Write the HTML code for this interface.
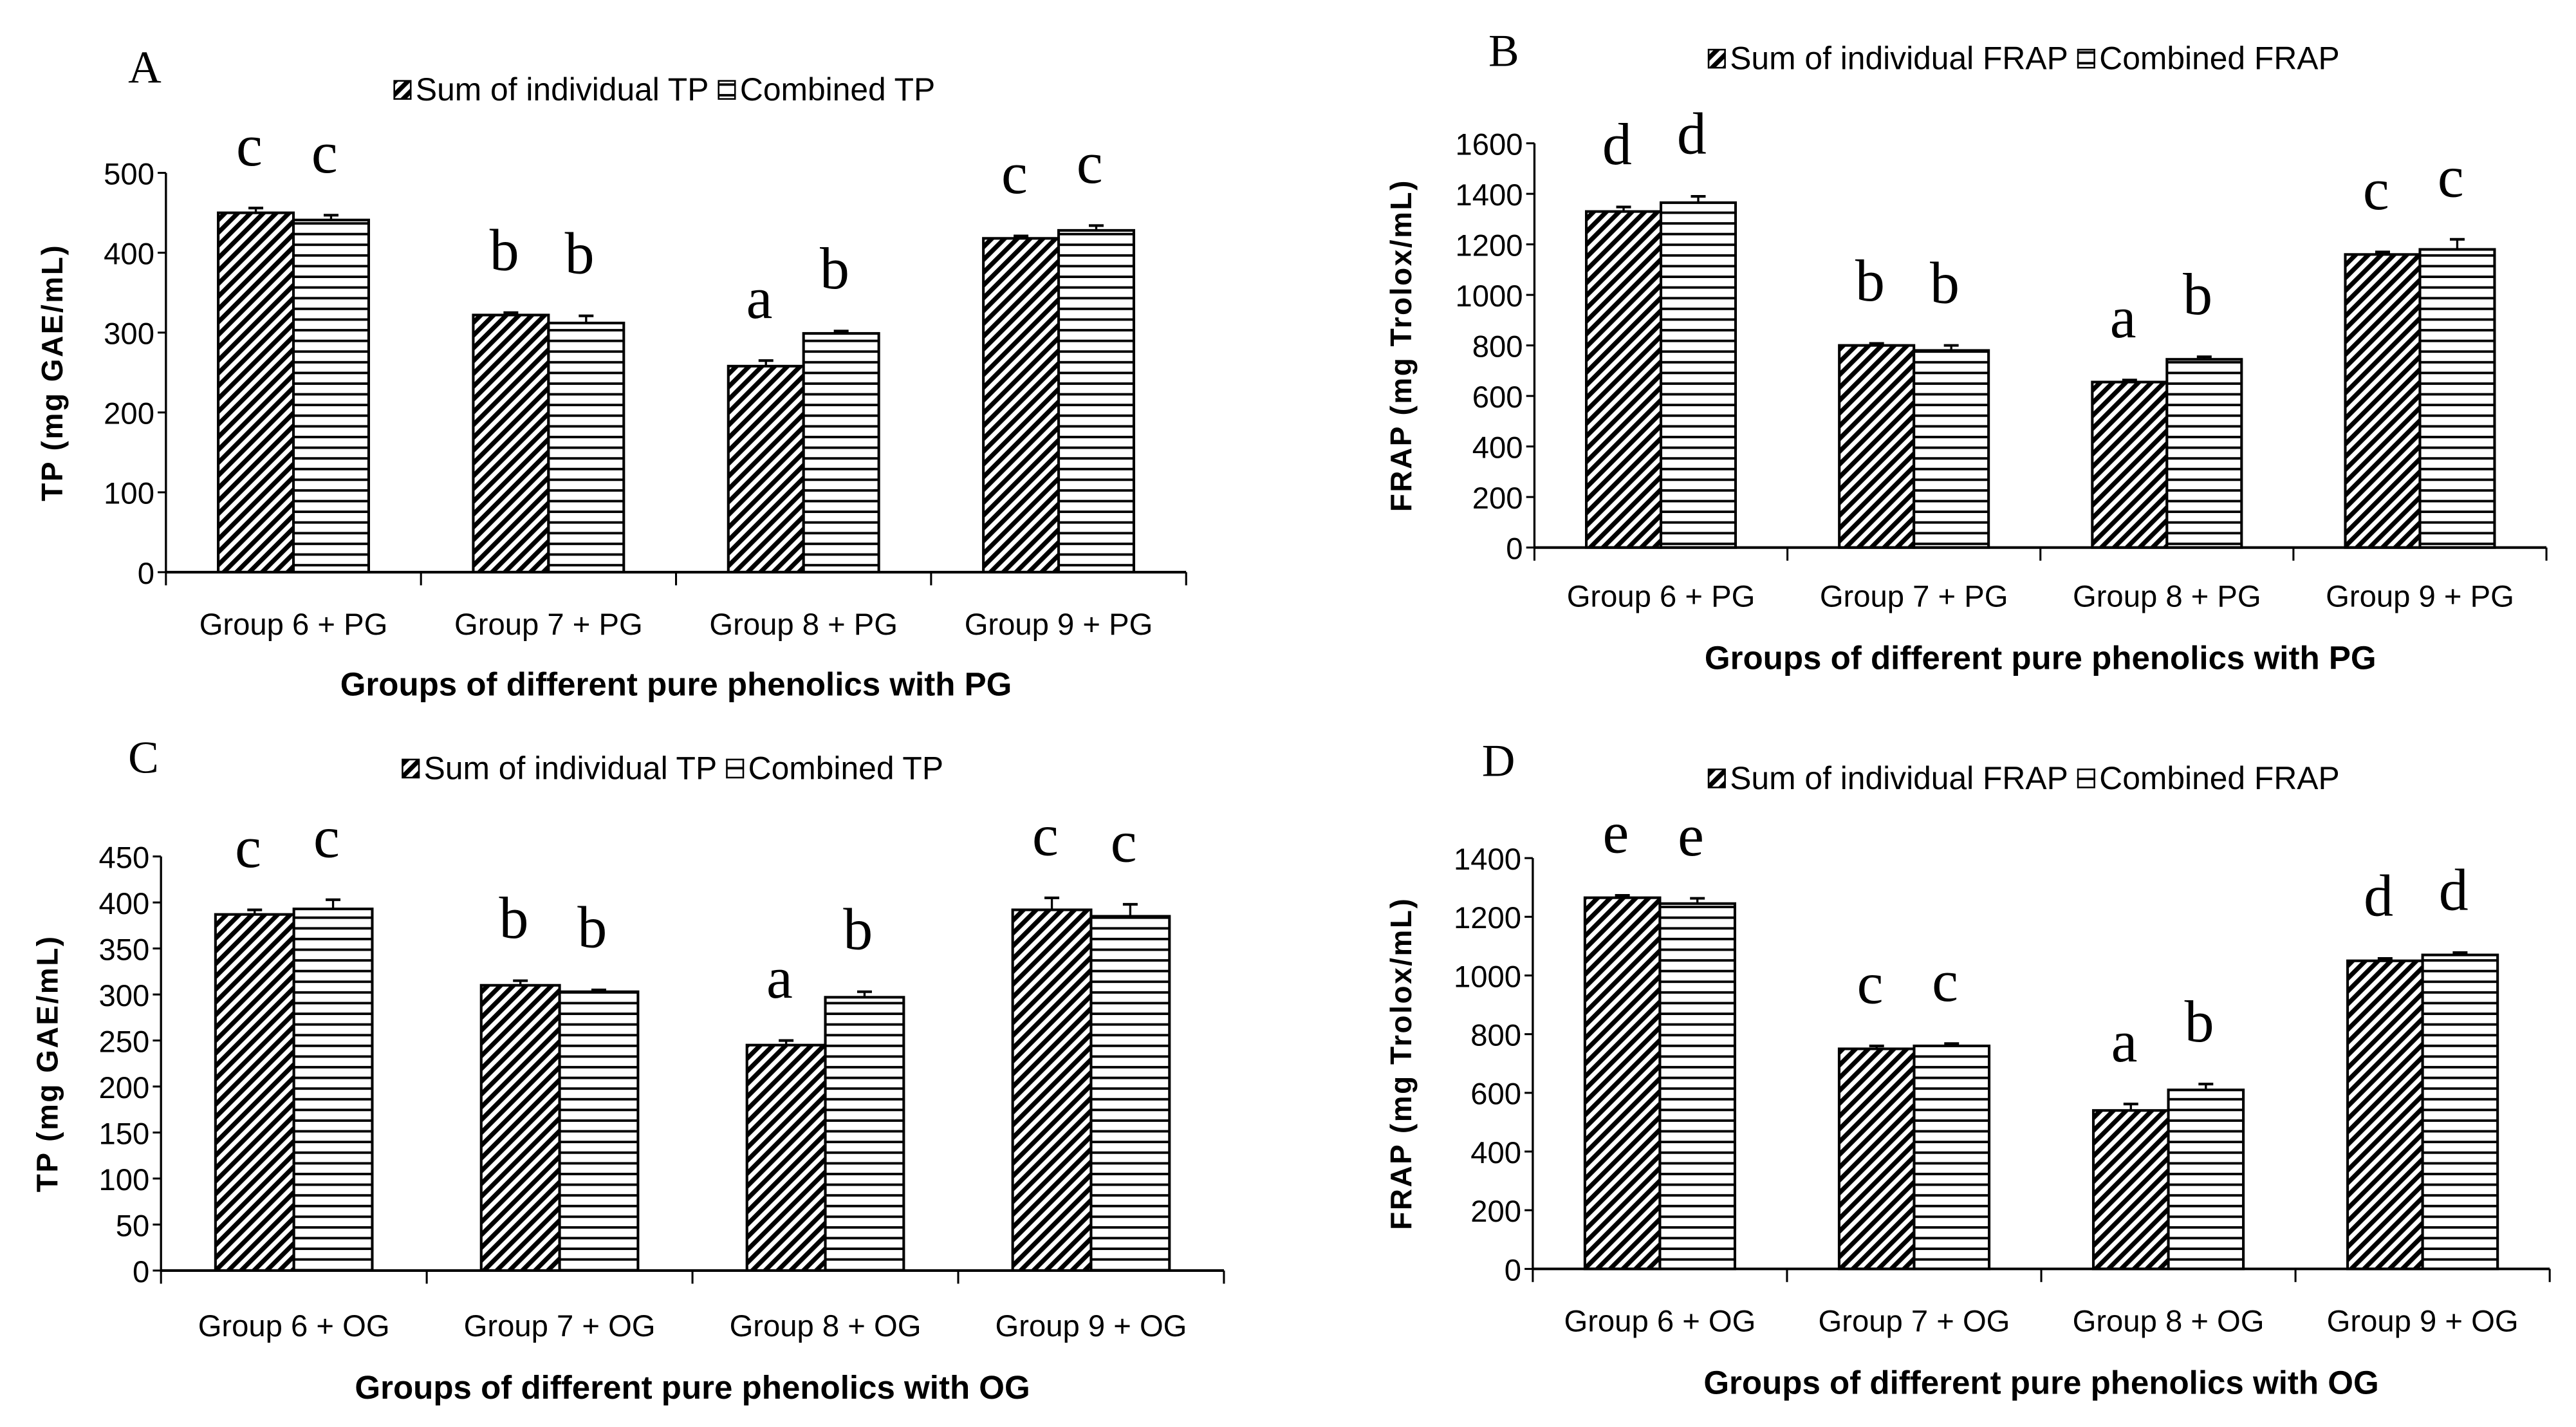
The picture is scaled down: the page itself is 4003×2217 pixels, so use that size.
<!DOCTYPE html>
<html><head><meta charset="utf-8"><style>
html,body{margin:0;padding:0;background:#fff;}
svg{display:block;}
.tick{font-family:"Liberation Sans Narrow","Liberation Sans",sans-serif;font-size:18.5px;fill:#000;}
.ylab{font-family:"Liberation Sans",sans-serif;font-size:18px;font-weight:bold;fill:#000;letter-spacing:1px;}
.xtitle{font-family:"Liberation Sans Narrow","Liberation Sans",sans-serif;font-size:20px;font-weight:bold;fill:#000;}
.sig{font-family:"Liberation Serif",serif;font-size:36px;fill:#000;}
.plab{font-family:"Liberation Serif",serif;font-size:28px;fill:#000;}
.leg{font-family:"Liberation Sans Narrow","Liberation Sans",sans-serif;font-size:19.5px;fill:#000;}
</style></head><body>
<svg id="fig" width="4003" height="2217" viewBox="0 0 1568 868" xmlns="http://www.w3.org/2000/svg">
<defs>
<pattern id="diag" patternUnits="userSpaceOnUse" width="5.5" height="5.5" patternTransform="rotate(45)">
<rect width="5.5" height="5.5" fill="#fff"/><rect width="2.8" height="5.5" fill="#000"/>
</pattern>
<pattern id="horiz" patternUnits="userSpaceOnUse" width="6" height="6.5">
<rect width="6" height="6.5" fill="#fff"/><rect y="5" width="6" height="1.5" fill="#000"/>
</pattern>
</defs>
</svg>
<script>
const groupsPG = ["Group 6 + PG","Group 7 + PG","Group 8 + PG","Group 9 + PG"];
const groupsOG = ["Group 6 + OG","Group 7 + OG","Group 8 + OG","Group 9 + OG"];
const aSum = [450,322,258,418], aComb = [441,312,299,428];
const aSumErr = [6,3,7,3], aCombErr = [6,9,3,6];
const aSumSig = ["c","b","a","c"], aCombSig = ["c","b","b","c"];
const aTicks = [0,100,200,300,400,500];
const bSum = [1330,800,655,1160], bComb = [1365,780,745,1180];
const bSumErr = [18,8,8,10], bCombErr = [25,20,10,40];
const bSumSig = ["d","b","a","c"], bCombSig = ["d","b","b","c"];
const bTicks = [0,200,400,600,800,1000,1200,1400,1600];
const cSum = [387,310,245,392], cComb = [393,303,297,385];
const cSumErr = [5,5,5,13], cCombErr = [10,2,6,13];
const cSumSig = ["c","b","a","c"], cCombSig = ["c","b","b","c"];
const cTicks = [0,50,100,150,200,250,300,350,400,450];
const dSum = [1265,750,540,1050], dComb = [1245,760,610,1070];
const dSumErr = [8,10,22,8], dCombErr = [18,8,20,8];
const dSumSig = ["e","c","a","d"], dCombSig = ["e","c","b","d"];
const dTicks = [0,200,400,600,800,1000,1200,1400];

const svg = document.getElementById('fig');
const NS = "http://www.w3.org/2000/svg";
function mk(tag, attrs, parent){const e=document.createElementNS(NS,tag);for(const k in attrs)e.setAttribute(k,attrs[k]);(parent||svg).appendChild(e);return e;}

function panel(p){
  const g = mk('g',{});
  
  
  const ymax = p.ticks[p.ticks.length-1];
  const ys = v => p.y0 - (v/ymax)*(p.y0-p.yTop);
  const gw = (p.x1-p.x0)/p.cats.length;
  const bw = gw*0.295;
  const pl = mk('text',{x:p.lx,y:p.ly,class:'plab'},g); pl.textContent=p.id;
  
  
  const lg = mk('g',{},g);
  
  
  mk('rect',{x:p.legX,y:p.legY-12,width:10,height:11,fill:'url(#diag)',stroke:'#000','stroke-width':1},lg);
  const t1 = mk('text',{x:p.legX+13,y:p.legY,class:'leg'},lg); t1.textContent=p.leg1;
  const w1 = t1.getComputedTextLength();
  const x2 = p.legX+13+w1+6;
  mk('rect',{x:x2,y:p.legY-12,width:10,height:11,fill:'url(#horiz)',stroke:'#000','stroke-width':1},lg);
  const t2 = mk('text',{x:x2+13,y:p.legY,class:'leg'},lg); t2.textContent=p.leg2;
  p.ticks.forEach(v=>{
    const y=ys(v);
    mk('line',{x1:p.x0-5,x2:p.x0,y1:y,y2:y,stroke:'#000','stroke-width':1.2},g);
    const t=mk('text',{x:p.x0-7,y:y+7,class:'tick','text-anchor':'end'},g); t.textContent=v;
    
    
  });
  p.cats.forEach((c,i)=>{
    const cx = p.x0+gw*(i+0.5);
    [[p.sum,p.sumErr,p.sumSig,'url(#diag)',cx-bw,'sum'],[p.comb,p.combErr,p.combSig,'url(#horiz)',cx,'combined']].forEach(s=>{
      const v=s[0][i], top=ys(v);
      const r=mk('rect',{x:s[4],y:top,width:bw,height:p.y0-top,fill:s[3],stroke:'#000','stroke-width':1.6},g);
      
      
      const et=ys(v+s[1][i]);
      const bx=s[4]+bw/2;
      mk('line',{x1:bx,x2:bx,y1:top,y2:et,stroke:'#000','stroke-width':1.3},g);
      mk('line',{x1:bx-4.5,x2:bx+4.5,y1:et,y2:et,stroke:'#000','stroke-width':1.6},g);
      const st=mk('text',{x:bx-4,y:et-26,class:'sig','text-anchor':'middle'},g); st.textContent=s[2][i];
      
      
    });
    const xl=mk('text',{x:cx,y:p.xlabY,class:'tick','text-anchor':'middle'},g); xl.textContent=c;
    
    
  });
  mk('line',{x1:p.x0,x2:p.x0,y1:p.yTop,y2:p.y0,stroke:'#000','stroke-width':1.3},g);
  mk('line',{x1:p.x0,x2:p.x1,y1:p.y0,y2:p.y0,stroke:'#000','stroke-width':1.6},g);
  for(let i=0;i<=p.cats.length;i++){const x=p.x0+gw*i;mk('line',{x1:x,x2:x,y1:p.y0,y2:p.y0+8,stroke:'#000','stroke-width':1.2},g);}
  const xt=mk('text',{x:(p.x0+p.x1)/2,y:p.xtY,class:'xtitle','text-anchor':'middle'},g); xt.textContent=p.xtitle;
  
  
  const yt=mk('text',{x:0,y:0,class:'ylab','text-anchor':'middle',transform:`translate(${p.ylX},${(p.yTop+p.y0)/2}) rotate(-90)`},g); yt.textContent=p.ytitle;
  
  
}

panel({id:'A',cats:groupsPG,sum:aSum,comb:aComb,sumErr:aSumErr,combErr:aCombErr,sumSig:aSumSig,combSig:aCombSig,ticks:aTicks,
  x0:101,x1:722,yTop:105,y0:348,lx:78,ly:50,legX:240,legY:61,leg1:'Sum of individual TP',leg2:'Combined TP',
  xlabY:386,xtY:423,xtitle:'Groups of different pure phenolics with PG',ylX:38,ytitle:'TP (mg GAE/mL)'});
panel({id:'B',cats:groupsPG,sum:bSum,comb:bComb,sumErr:bSumErr,combErr:bCombErr,sumSig:bSumSig,combSig:bCombSig,ticks:bTicks,
  x0:934,x1:1550,yTop:87,y0:333,lx:906,ly:40,legX:1040,legY:42,leg1:'Sum of individual FRAP',leg2:'Combined FRAP',
  xlabY:369,xtY:407,xtitle:'Groups of different pure phenolics with PG',ylX:859,ytitle:'FRAP (mg Trolox/mL)'});
panel({id:'C',cats:groupsOG,sum:cSum,comb:cComb,sumErr:cSumErr,combErr:cCombErr,sumSig:cSumSig,combSig:cCombSig,ticks:cTicks,
  x0:98,x1:745,yTop:521,y0:773,lx:78,ly:470,legX:245,legY:474,leg1:'Sum of individual TP',leg2:'Combined TP',
  xlabY:813,xtY:851,xtitle:'Groups of different pure phenolics with OG',ylX:35,ytitle:'TP (mg GAE/mL)'});
panel({id:'D',cats:groupsOG,sum:dSum,comb:dComb,sumErr:dSumErr,combErr:dCombErr,sumSig:dSumSig,combSig:dCombSig,ticks:dTicks,
  x0:933,x1:1552,yTop:522,y0:772,lx:902,ly:472,legX:1040,legY:480,leg1:'Sum of individual FRAP',leg2:'Combined FRAP',
  xlabY:810,xtY:848,xtitle:'Groups of different pure phenolics with OG',ylX:859,ytitle:'FRAP (mg Trolox/mL)'});
</script>
</body></html>
